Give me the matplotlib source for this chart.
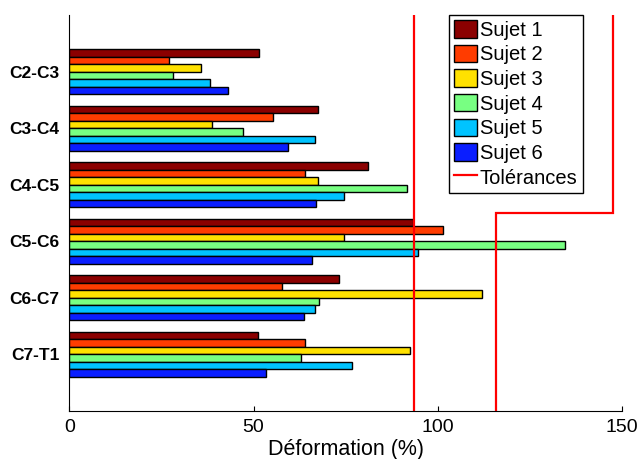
import matplotlib.pyplot as plt
import numpy as np

plt.rcParams['font.family'] = ['Liberation Sans', 'DejaVu Sans']

levels = ['C2-C3', 'C3-C4', 'C4-C5', 'C5-C6', 'C6-C7', 'C7-T1']
subjects = ['Sujet 1', 'Sujet 2', 'Sujet 3', 'Sujet 4', 'Sujet 5', 'Sujet 6']
colors = ['#8B0000', '#FF3C00', '#FFE100', '#78FF82', '#00C3FF', '#0A1EFF']

# deformation (%) per subject, one value per level (top to bottom)
sujet1 = [51.6, 67.5, 81.0, 93.4, 73.3, 51.3]
sujet2 = [27.0, 55.4, 64.1, 101.4, 57.8, 63.9]
sujet3 = [35.7, 38.7, 67.4, 74.5, 112.0, 92.4]
sujet4 = [28.2, 47.1, 91.7, 134.7, 67.7, 62.9]
sujet5 = [38.3, 66.8, 74.5, 94.7, 66.6, 76.7]
sujet6 = [43.0, 59.3, 67.0, 65.9, 63.6, 53.4]
values = [sujet1, sujet2, sujet3, sujet4, sujet5, sujet6]

# tolerance limits per level
tol_low = [93.7, 93.7, 93.7, 93.7, 93.7, 93.7]
tol_high = [147.6, 147.6, 147.6, 115.8, 115.8, 115.8]

fig = plt.figure(figsize=(6.43, 4.59), dpi=100)
ax = fig.add_axes([0.108, 0.105, 0.859, 0.862])

pos = np.arange(1, len(levels) + 1)
group_h = 0.8
bar_h = group_h / len(subjects)
for i, (name, vals) in enumerate(zip(subjects, values)):
    offs = -group_h / 2 + bar_h * (i + 0.5)
    ax.barh(pos + offs, vals, height=bar_h, color=colors[i],
            edgecolor='black', linewidth=1, label=name)

edges = np.concatenate([[0], pos[:-1] + 0.5, [len(levels) + 1]])
ax.stairs(tol_low, edges, orientation='horizontal', baseline=None,
          color='red', linewidth=1.6, label='Tolérances')
ax.stairs(tol_high, edges, orientation='horizontal', baseline=None,
          color='red', linewidth=1.6)

ax.set_ylim(len(levels) + 1, 0)
ax.set_xlim(0, 150)
ax.set_yticks(pos)
ax.set_yticklabels(levels, fontsize=12.5, fontweight='bold')
ax.set_xticks([0, 50, 100, 150])
ax.tick_params(axis='x', direction='in', labelsize=14, pad=6)
ax.tick_params(axis='y', direction='in', length=0, pad=7)
ax.spines['top'].set_visible(False)
ax.spines['right'].set_visible(False)
ax.set_xlabel('Déformation (%)', fontsize=15.5, labelpad=2)

handles, labels = ax.get_legend_handles_labels()
handles = handles[1:] + handles[:1]
labels = labels[1:] + labels[:1]
leg = ax.legend(handles, labels, loc='upper right', bbox_to_anchor=(0.929, 1.0),
                borderaxespad=0, fontsize=14.5, handlelength=1.15, handleheight=0.95,
                handletextpad=0.15, labelspacing=0.25, borderpad=0.25,
                fancybox=False, framealpha=1, edgecolor='black')
leg.get_frame().set_linewidth(1)

fig.savefig('out.png', dpi=100)
